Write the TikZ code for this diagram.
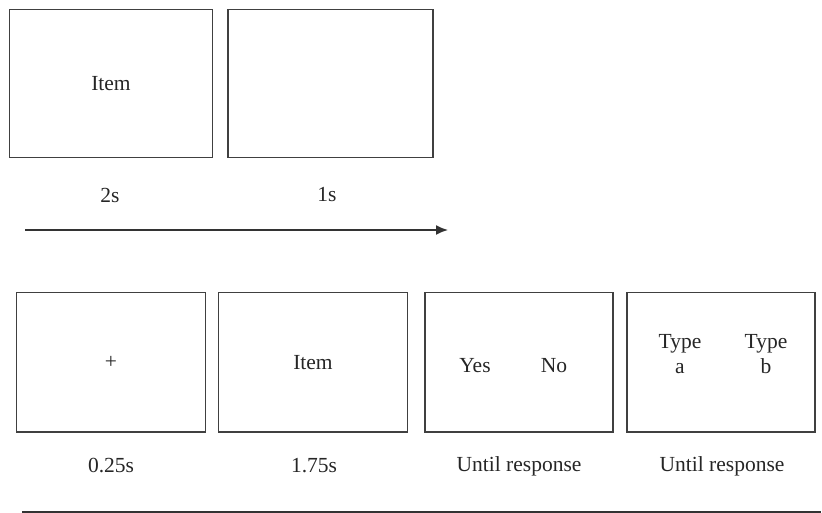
\documentclass[tikz,border=0pt]{standalone}
\usepackage{fontspec}
\setmainfont{Liberation Serif}
\usepackage{tikz}
\usetikzlibrary{arrows.meta}
\usetikzlibrary{positioning}

\begin{document}
\begin{tikzpicture}[x=1pt, y=-1pt, every node/.style={font=\fontsize{21.5}{25}\selectfont, text=black!85}, screen/.style={draw=black!75, line width=1.5pt, inner sep=0pt}, timeline/.style={draw=black!80, line width=1.6pt}]
        % Define the size of the screens in the second row
        \def\w{189}
        \def\h{139.5}

        \useasboundingbox (0,0) rectangle (822,513);

        % First sequence
        \node[screen, minimum width=203pt, minimum height=148pt] (item1) at (111,83.5) {Item};
        \node[screen, minimum width=205pt, minimum height=148pt] (blank1) at (330.5,83.5) {};

        \node (d1) at (110,195) {2s};
        \node (d2) at (327,195) {1s};

        \coordinate (t0) at (25,230);
        \coordinate (t1) at (448,230);
        \draw[timeline, -{Latex[length=12pt, width=10pt]}] (t0) -- (t1);

        % Second sequence
        \node[screen, minimum width=\w pt, minimum height=\h pt] (fix) at (111,362.3) {+};
        \node[screen, minimum width=\w pt, minimum height=\h pt] (item2) at (313,362.3) {Item};
        \node[screen, minimum width=188pt, minimum height=\h pt] (judge) at (519,362.3) {};
        \node[screen, minimum width=188pt, minimum height=\h pt] (type) at (721,362.3) {};

        \node (yes) at (475,366) {Yes};
        \node (no) at (554,366) {No};
        \node[align=center] (ta) at (680,354) {Type\\a};
        \node[align=center] (tb) at (766,354) {Type\\b};

        \node (d3) at (111,466) {0.25s};
        \node (d4) at (314,466) {1.75s};
        \node (d5) at (519,466) {Until response};
        \node (d6) at (722,466) {Until response};

        \coordinate (s0) at (22,511.5);
        \coordinate (s1) at (821,511.5);
        \draw[timeline, line width=2pt] (s0) -- (s1);
      \end{tikzpicture}
\end{document}
